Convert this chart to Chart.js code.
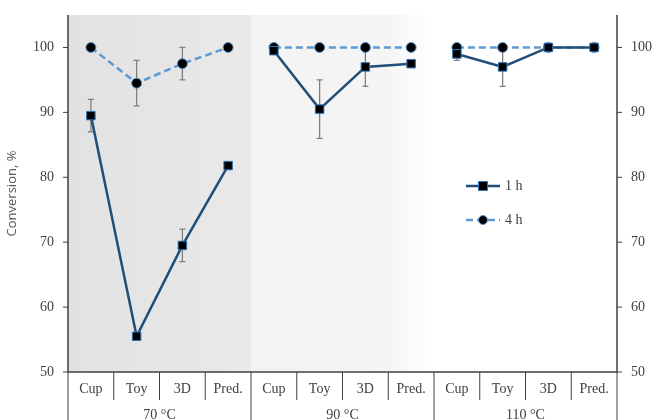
<!DOCTYPE html>
<html><head><script src="https://cdn.jsdelivr.net/npm/chart.js@4"></script>
<style>body{margin:0;background:#fff}#w{width:654px;height:420px}</style></head>
<body><div id="w"><canvas id="c"></canvas></div>
<script>
const categories=["Cup","Toy","3D","Pred.","Cup","Toy","3D","Pred.","Cup","Toy","3D","Pred."];
const groups=["70 °C","90 °C","110 °C"];
const h1=[89.5,55.5,69.5,81.8,99.5,90.5,97,97.5,99,97,100,100];
const h1err=[2.5,0,2.5,0,0,4.5,3,0,1,3,0,0];
const h4=[100,94.5,97.5,100,100,100,100,100,100,100,100,100];
const h4err=[0,3.5,2.5,0,0,0,0,0,0,0,0,0];
const yTicks=[50,60,70,80,90,100];
function pts(v){const o=[];v.forEach((y,i)=>{if(i>0&&i%4===0)o.push({x:i,y:null});o.push({x:i+0.5,y});});return o;}
const serif='"Liberation Serif","Times New Roman",serif';
const deco={id:'deco',
beforeDatasetsDraw(ch){const {ctx,chartArea:a,scales:{x}}=ch;ctx.save();
 let x0=x.getPixelForValue(0),x4=x.getPixelForValue(4),x8=x.getPixelForValue(8);
 let g=ctx.createLinearGradient(x0,0,x4,0);g.addColorStop(0,'#e2e2e2');g.addColorStop(1,'#e9e9e9');
 ctx.fillStyle=g;ctx.fillRect(x0,a.top,x4-x0,a.bottom-a.top);
 g=ctx.createLinearGradient(x4,0,x8,0);g.addColorStop(0,'#f3f3f3');g.addColorStop(0.75,'#f5f5f5');g.addColorStop(1,'#ffffff');
 ctx.fillStyle=g;ctx.fillRect(x4,a.top,x8-x4,a.bottom-a.top);
 const y=ch.scales.y;ctx.strokeStyle='#7f7f7f';ctx.lineWidth=1.3;
 [[h1,h1err],[h4,h4err]].forEach(([v,e])=>v.forEach((val,i)=>{if(!e[i])return;const px=x.getPixelForValue(i+0.5);
  const t=y.getPixelForValue(Math.min(val+e[i],105)),b=y.getPixelForValue(val-e[i]);
  ctx.beginPath();ctx.moveTo(px,t);ctx.lineTo(px,b);ctx.moveTo(px-3,t);ctx.lineTo(px+3,t);ctx.moveTo(px-3,b);ctx.lineTo(px+3,b);ctx.stroke();}));
 ctx.restore();},
afterDraw(ch){const {ctx,chartArea:a,scales:{x,y}}=ch;ctx.save();
 ctx.strokeStyle='#404040';ctx.lineWidth=1.5;
 ctx.beginPath();ctx.moveTo(a.left,a.top);ctx.lineTo(a.left,a.bottom);ctx.lineTo(a.right,a.bottom);ctx.lineTo(a.right,a.top);ctx.stroke();
 ctx.lineWidth=1;ctx.fillStyle='#404040';ctx.font='14px '+serif;
 yTicks.forEach(t=>{const py=y.getPixelForValue(t);ctx.beginPath();ctx.moveTo(a.left-5,py);ctx.lineTo(a.left,py);ctx.moveTo(a.right,py);ctx.lineTo(a.right+5,py);ctx.stroke();
  ctx.textBaseline='middle';ctx.textAlign='right';ctx.fillText(t,a.left-14,py);ctx.textAlign='left';ctx.fillText(t,a.right+14,py);});
 ctx.textAlign='center';ctx.textBaseline='middle';
 for(let i=0;i<=12;i++){const px=x.getPixelForValue(i);ctx.beginPath();ctx.moveTo(px,a.bottom);ctx.lineTo(px,i%4===0?430:a.bottom+28);ctx.stroke();}
 categories.forEach((c,i)=>ctx.fillText(c,x.getPixelForValue(i+0.5),a.bottom+17));
 groups.forEach((g,i)=>ctx.fillText(g,x.getPixelForValue(i*4+2),a.bottom+43));
 [[0,'1 h'],[1,'4 h']].forEach(([k,l])=>{const ly=186+k*34,ds=ch.data.datasets[k];
  ctx.strokeStyle=ds.borderColor;ctx.lineWidth=2.5;ctx.setLineDash(k?[7,4]:[]);ctx.beginPath();ctx.moveTo(466,ly);ctx.lineTo(500,ly);ctx.stroke();ctx.setLineDash([]);
  ctx.fillStyle='#000';ctx.strokeStyle=ds.pointBorderColor;ctx.lineWidth=1;ctx.beginPath();
  if(k)ctx.arc(483,ly,4.5,0,7);else ctx.rect(478.5,ly-4.5,9,9);ctx.fill();ctx.stroke();
  ctx.fillStyle='#404040';ctx.textAlign='left';ctx.fillText(l,505,ly);});
 ctx.restore();}};
new Chart(document.getElementById('c'),{type:'line',
data:{datasets:[
 {data:pts(h1),borderColor:'#1f4e79',borderWidth:2.5,pointStyle:'rect',pointRadius:6,pointBackgroundColor:'#000',pointBorderColor:'#2e75b6',pointBorderWidth:1,spanGaps:false},
 {data:pts(h4),borderColor:'#5b9bd5',borderWidth:2.5,borderDash:[7,4],pointStyle:'circle',pointRadius:5,pointBackgroundColor:'#000',pointBorderColor:'#5b9bd5',pointBorderWidth:1,spanGaps:false}]},
options:{responsive:true,maintainAspectRatio:false,animation:false,
 layout:{padding:{top:15,bottom:48,left:0,right:37}},
 plugins:{legend:{display:false},tooltip:{enabled:false}},
 scales:{x:{type:'linear',min:0,max:12,display:false},
  y:{min:50,max:105,afterFit(s){s.width=68;},grid:{display:false},border:{display:false},
   ticks:{display:false,stepSize:10},
   title:{display:true,text:'Conversion, %',color:'#595959',font:{family:'"Open Sans",sans-serif',size:13},padding:{bottom:40}}}}},
plugins:[deco]});
</script></body></html>
